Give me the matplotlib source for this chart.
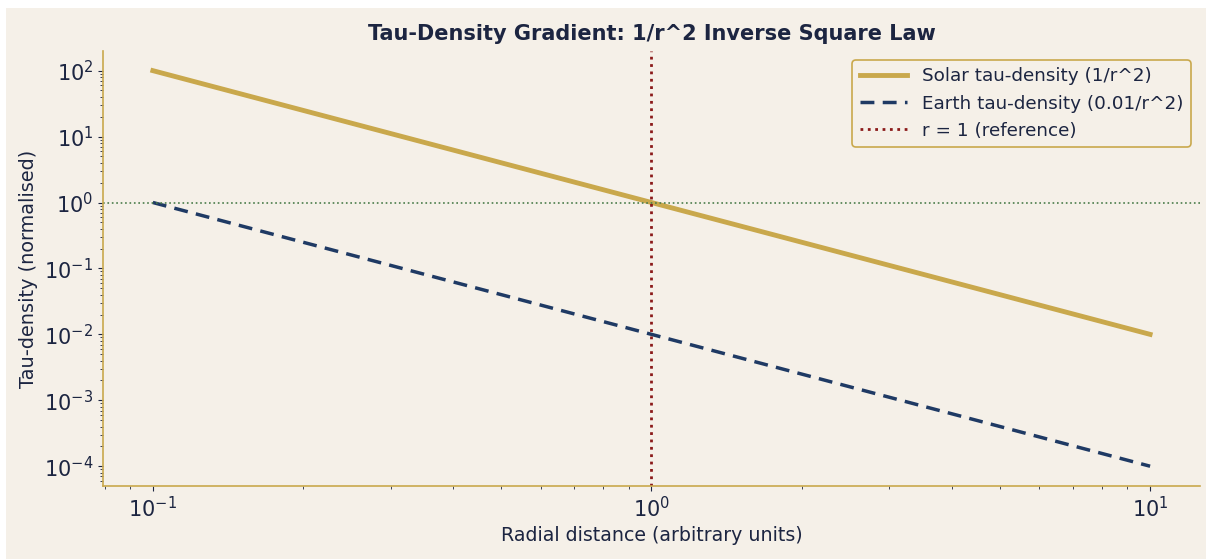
import matplotlib
matplotlib.use("Agg")
import matplotlib.pyplot as plt
from matplotlib.patches import Rectangle
from matplotlib.ticker import NullFormatter

# ? Values
radius = [0.1, 0.2, 0.5, 1.0, 2.0, 5.0, 10.0]
solar_density = [100.0, 25.0, 4.0, 1.0, 0.25, 0.04, 0.01]
earth_density = [1.0, 0.25, 0.04, 0.01, 0.0025, 0.0004, 0.0001]
reference_r = 1.0
reference_density = 1.0

BG = "#f5f0e8"
GOLD = "#c9a84c"
NAVY = "#1f3a64"
RED = "#8b1a1a"
GREEN = "#4a7c4a"
TEXT = "#1c2541"


def main():
    fig, ax = plt.subplots(figsize=(12.06, 5.59), dpi=100)
    fig.patch.set_facecolor(BG)
    # * Thin white strips at top and left, as in the reference
    fig.patches.append(Rectangle((0, 1 - 8 / 559), 1, 8 / 559,
                                 transform=fig.transFigure,
                                 facecolor="white", edgecolor="none"))
    fig.patches.append(Rectangle((0, 0), 6 / 1206, 1,
                                 transform=fig.transFigure,
                                 facecolor="white", edgecolor="none"))
    ax.set_facecolor(BG)
    fig.subplots_adjust(left=0.0854, right=0.995, top=0.909, bottom=0.1306)

    ax.loglog(radius, solar_density, color=GOLD, linewidth=3.5,
              label="Solar tau-density (1/r^2)")
    ax.loglog(radius, earth_density, color=NAVY, linewidth=2.5,
              linestyle=(0, (4, 2.4)), label="Earth tau-density (0.01/r^2)")
    ax.axvline(reference_r, color=RED, linestyle=":", linewidth=2,
               label="r = 1 (reference)")
    ax.axhline(reference_density, color=GREEN, linestyle=":", linewidth=1.2)

    # * Titles and labels
    ax.set_title("Tau-Density Gradient: 1/r^2 Inverse Square Law",
                 fontsize=15, fontweight="bold", color=TEXT, pad=8)
    ax.set_xlabel("Radial distance (arbitrary units)", fontsize=13.7,
                  color=TEXT)
    ax.set_ylabel("Tau-density (normalised)", fontsize=13.9, color=TEXT)

    # * Spines and ticks
    for side in ["top", "right"]:
        ax.spines[side].set_visible(False)
    for side in ["left", "bottom"]:
        ax.spines[side].set_color(GOLD)
        ax.spines[side].set_linewidth(1.2)
    ax.tick_params(colors=TEXT, labelsize=15)
    ax.tick_params(which="minor", colors=TEXT)
    ax.xaxis.set_minor_formatter(NullFormatter())
    ax.yaxis.set_minor_formatter(NullFormatter())

    leg = ax.legend(loc="upper right", fontsize=13.2, facecolor=BG,
                    edgecolor=GOLD, framealpha=1, labelcolor=TEXT,
                    handlelength=2.6)
    leg.get_frame().set_linewidth(1.2)

    fig.savefig("out.png", dpi=100, facecolor=BG)


if __name__ == "__main__":
    main()
